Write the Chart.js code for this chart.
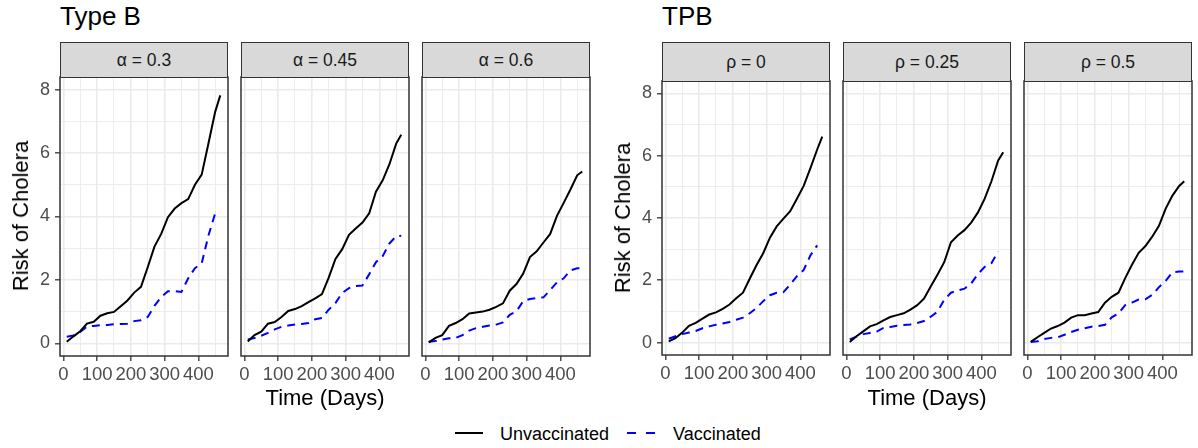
<!DOCTYPE html>
<html>
<head>
<meta charset="utf-8">
<script src="https://cdn.jsdelivr.net/npm/chart.js@4.4.1/dist/chart.umd.min.js"></script>
<style>
  body { margin: 0; background: #fff; font-family: "Liberation Sans", Arial, sans-serif; }
  #wrap { position: relative; width: 1198px; height: 448px; overflow: hidden; }
  canvas { position: absolute; }
  .title { position: absolute; font-size: 26px; line-height: 26px; color: #000; }
  .strip { position: absolute; box-sizing: border-box; border: 1.5px solid #333; background: #D9D9D9;
           color: #1A1A1A; font-size: 17.5px; display: flex; align-items: center; justify-content: center; }
  .ytitle { position: absolute; font-size: 22px; line-height: 22px; white-space: nowrap;
            transform: translate(-50%, -50%) rotate(-90deg); }
  .xtitle { position: absolute; font-size: 22px; line-height: 22px; white-space: nowrap; transform: translateX(-50%); }
  .legtext { position: absolute; font-size: 18px; line-height: 18px; color: #000; }
</style>
</head>
<body>
<div id="wrap"></div>
<script>
// time points (days)
const days = [10, 30, 50, 70, 90, 110, 130, 150, 170, 190, 210, 230, 250, 270, 290, 310, 330, 350, 370, 390, 410, 430, 450, 465];

// Type B, alpha panels
const unvacA03 = [0.05, 0.22, 0.38, 0.62, 0.68, 0.87, 0.95, 0.99, 1.17, 1.35, 1.6, 1.78, 2.4, 3.05, 3.45, 3.98, 4.25, 4.42, 4.55, 5.0, 5.32, 6.3, 7.3, 7.82];
const vacA03   = [0.21, 0.25, 0.36, 0.53, 0.55, 0.57, 0.58, 0.6, 0.61, 0.62, 0.7, 0.73, 0.83, 1.18, 1.46, 1.64, 1.65, 1.62, 2.05, 2.37, 2.52, 3.4, 4.1, null];
const unvacA045 = [0.06, 0.26, 0.37, 0.62, 0.67, 0.83, 1.02, 1.08, 1.17, 1.3, 1.42, 1.55, 2.07, 2.66, 2.97, 3.42, 3.62, 3.81, 4.1, 4.78, 5.14, 5.65, 6.3, 6.58];
const vacA045   = [0.12, 0.17, 0.24, 0.33, 0.44, 0.52, 0.56, 0.59, 0.61, 0.64, 0.76, 0.8, 1.06, 1.27, 1.59, 1.74, 1.81, 1.82, 2.18, 2.56, 2.75, 3.15, 3.38, 3.39];
const unvacA06 = [0.03, 0.17, 0.26, 0.55, 0.64, 0.76, 0.94, 0.97, 1.0, 1.06, 1.15, 1.26, 1.66, 1.87, 2.2, 2.72, 2.9, 3.18, 3.45, 4.02, 4.43, 4.85, 5.3, 5.42];
const vacA06   = [0.05, 0.07, 0.12, 0.16, 0.17, 0.26, 0.4, 0.48, 0.52, 0.56, 0.59, 0.66, 0.9, 1.01, 1.33, 1.4, 1.43, 1.45, 1.68, 1.92, 2.05, 2.3, 2.37, 2.37];

// TPB, rho panels
const unvacR0 = [0.04, 0.14, 0.32, 0.54, 0.63, 0.77, 0.9, 0.97, 1.08, 1.22, 1.42, 1.6, 2.05, 2.48, 2.87, 3.37, 3.73, 3.98, 4.22, 4.62, 5.03, 5.6, 6.2, 6.61];
const vacR0   = [0.12, 0.2, 0.27, 0.32, 0.37, 0.46, 0.52, 0.57, 0.61, 0.66, 0.73, 0.8, 0.94, 1.11, 1.33, 1.52, 1.6, 1.62, 1.86, 2.13, 2.33, 2.8, 3.12, null];
const unvacR025 = [0.02, 0.2, 0.36, 0.52, 0.59, 0.71, 0.82, 0.88, 0.94, 1.06, 1.2, 1.41, 1.8, 2.18, 2.58, 3.22, 3.44, 3.61, 3.85, 4.18, 4.62, 5.18, 5.85, 6.11];
const vacR025   = [0.1, 0.19, 0.27, 0.31, 0.35, 0.47, 0.5, 0.54, 0.56, 0.58, 0.63, 0.69, 0.83, 0.99, 1.37, 1.6, 1.67, 1.73, 1.9, 2.2, 2.43, 2.55, 2.92, null];
const unvacR05 = [0.02, 0.17, 0.31, 0.45, 0.53, 0.64, 0.8, 0.88, 0.88, 0.93, 0.98, 1.28, 1.47, 1.6, 2.07, 2.5, 2.88, 3.1, 3.4, 3.75, 4.3, 4.72, 5.03, 5.18];
const vacR05   = [0.02, 0.04, 0.11, 0.15, 0.17, 0.25, 0.34, 0.41, 0.46, 0.51, 0.53, 0.57, 0.81, 0.93, 1.2, 1.28, 1.38, 1.39, 1.53, 1.78, 1.98, 2.26, 2.28, 2.28];

// axis ticks
const xTicks = [0, 50, 100, 150, 200, 250, 300, 350, 400, 450];
const yTicks = [0, 1, 2, 3, 4, 5, 6, 7, 8];

Chart.defaults.font.family = '"Liberation Sans", Arial, sans-serif';

const wrap = document.getElementById('wrap');

// panel border drawn on top (like theme_bw)
const panelBorder = {
  id: 'panelBorder',
  afterDatasetsDraw(chart) {
    const { ctx, chartArea: a } = chart;
    ctx.save();
    ctx.strokeStyle = '#333333';
    ctx.lineWidth = 1.5;
    ctx.strokeRect(a.left, a.top, a.right - a.left, a.bottom - a.top);
    ctx.restore();
  }
};

function addDiv(cls, text, style) {
  const d = document.createElement('div');
  d.className = cls;
  d.textContent = text;
  Object.assign(d.style, style);
  wrap.appendChild(d);
  return d;
}

function makePanel(p) {
  const yw = p.showY ? 60 : 0;
  const xh = 30;
  const pad = 2;
  const canvas = document.createElement('canvas');
  canvas.width = p.w + yw + pad * 2;
  canvas.height = p.h + xh + pad * 2;
  canvas.style.left = (p.left - yw - pad) + 'px';
  canvas.style.top = (p.top - pad) + 'px';
  wrap.appendChild(canvas);

  new Chart(canvas.getContext('2d'), {
    type: 'line',
    data: {
      datasets: [
        {
          label: 'Unvaccinated',
          data: days.map((d, i) => ({ x: d, y: p.unvac[i] })),
          borderColor: '#000000',
          borderWidth: 2,
          pointRadius: 0,
          tension: 0
        },
        {
          label: 'Vaccinated',
          data: days.map((d, i) => ({ x: d, y: p.vac[i] })),
          borderColor: '#0000FF',
          borderWidth: 2,
          borderDash: [8, 6],
          pointRadius: 0,
          tension: 0
        }
      ]
    },
    options: {
      responsive: false,
      animation: false,
      devicePixelRatio: 1,
      layout: { padding: pad },
      plugins: { legend: { display: false }, tooltip: { enabled: false } },
      scales: {
        x: {
          type: 'linear',
          min: -10,
          max: 488,
          afterBuildTicks: s => { s.ticks = xTicks.map(v => ({ value: v })); },
          afterFit: s => { s.height = xh; s.paddingLeft = 0; s.paddingRight = 0; },
          ticks: {
            autoSkip: false, maxRotation: 0, padding: 3,
            color: '#4D4D4D', font: { size: 18.5 },
            callback: v => (v % 100 === 0 ? String(v) : '')
          },
          grid: {
            color: '#EBEBEB',
            lineWidth: c => (c.tick && c.tick.value % 100 === 0 ? 1.6 : 0.9),
            drawTicks: true, tickLength: 5, tickWidth: 1.3,
            tickColor: c => (c.tick && c.tick.value % 100 === 0 ? '#333333' : 'rgba(0,0,0,0)')
          },
          border: { display: false }
        },
        y: {
          type: 'linear',
          min: -0.4,
          max: 8.4,
          afterBuildTicks: s => { s.ticks = yTicks.map(v => ({ value: v })); },
          afterFit: s => { s.width = yw; s.paddingTop = 0; s.paddingBottom = 0; },
          ticks: {
            display: p.showY, autoSkip: false, padding: 5,
            color: '#4D4D4D', font: { size: 18 },
            callback: v => (v % 2 === 0 ? String(v) : '')
          },
          grid: {
            color: '#EBEBEB',
            lineWidth: c => (c.tick && c.tick.value % 2 === 0 ? 1.6 : 0.9),
            drawTicks: p.showY, tickLength: 5, tickWidth: 1.3,
            tickColor: c => (c.tick && c.tick.value % 2 === 0 ? '#333333' : 'rgba(0,0,0,0)')
          },
          border: { display: false }
        }
      }
    },
    plugins: [panelBorder]
  });

  addDiv('strip', p.label, {
    left: p.left + 'px', top: p.stripTop + 'px',
    width: p.w + 'px', height: (p.top - p.stripTop + 1) + 'px'
  });
}

const panels = [
  { label: 'α = 0.3',  unvac: unvacA03,  vac: vacA03,  left: 60,   top: 77, w: 168, h: 279, stripTop: 42, showY: true },
  { label: 'α = 0.45', unvac: unvacA045, vac: vacA045, left: 241,  top: 77, w: 168, h: 279, stripTop: 42, showY: false },
  { label: 'α = 0.6',  unvac: unvacA06,  vac: vacA06,  left: 422,  top: 77, w: 168, h: 279, stripTop: 42, showY: false },
  { label: 'ρ = 0',    unvac: unvacR0,   vac: vacR0,   left: 662,  top: 81, w: 168, h: 274, stripTop: 42, showY: true },
  { label: 'ρ = 0.25', unvac: unvacR025, vac: vacR025, left: 843,  top: 81, w: 168, h: 274, stripTop: 42, showY: false },
  { label: 'ρ = 0.5',  unvac: unvacR05,  vac: vacR05,  left: 1024, top: 81, w: 168, h: 274, stripTop: 42, showY: false }
];
panels.forEach(makePanel);

// titles and axis titles
addDiv('title', 'Type B', { left: '60px', top: '3px' });
addDiv('title', 'TPB', { left: '662px', top: '3px' });
addDiv('ytitle', 'Risk of Cholera', { left: '21px', top: '216px' });
addDiv('ytitle', 'Risk of Cholera', { left: '623px', top: '218px' });
addDiv('xtitle', 'Time (Days)', { left: '325px', top: '387px' });
addDiv('xtitle', 'Time (Days)', { left: '927px', top: '387px' });

// legend
const leg = document.createElementNS('http://www.w3.org/2000/svg', 'svg');
leg.setAttribute('width', '1198');
leg.setAttribute('height', '20');
leg.style.position = 'absolute';
leg.style.left = '0px';
leg.style.top = '423px';
leg.innerHTML =
  '<line x1="455" y1="10" x2="483" y2="10" stroke="#000" stroke-width="2"/>' +
  '<line x1="627" y1="10" x2="656" y2="10" stroke="#0000FF" stroke-width="2" stroke-dasharray="9,10"/>';
wrap.appendChild(leg);
addDiv('legtext', 'Unvaccinated', { left: '500px', top: '425px' });
addDiv('legtext', 'Vaccinated', { left: '673px', top: '425px' });
</script>
</body>
</html>
